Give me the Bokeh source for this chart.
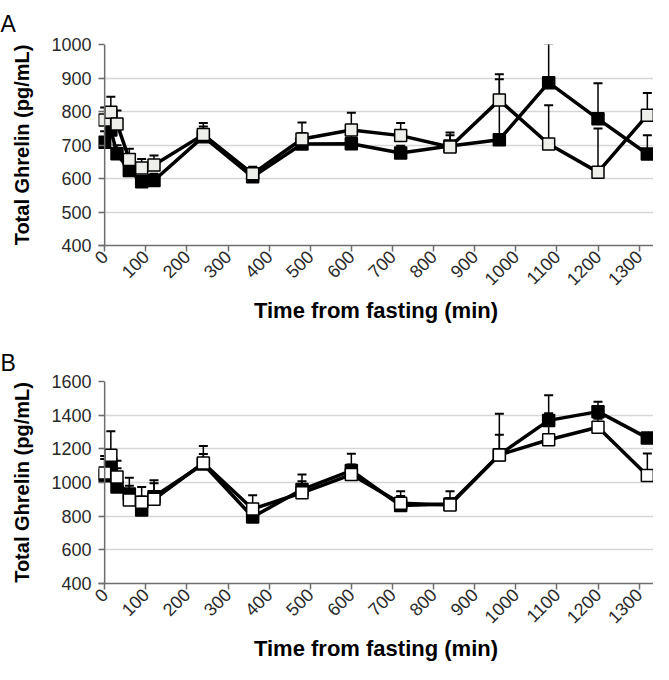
import math
from bokeh.plotting import figure
from bokeh.layouts import column
from bokeh.models import ColumnDataSource, Whisker, TeeHead, Span, FixedTicker
from bokeh.embed import file_html
from bokeh.resources import INLINE

# ---- data ----
time_min = [0, 15, 30, 60, 90, 120, 240, 360, 480, 600, 720, 840, 960, 1080, 1200, 1320]
x_ticks = list(range(0, 1301, 100))

a_filled = [708, 745, 674, 624, 590, 594, 725, 605, 703, 704, 676, 697, 716, 886, 778, 673]
a_filled_err = [33, 35, 25, 20, 18, 20, 30, 20, 33, 25, 22, 40, 180, 117, 106, 56]
a_open = [775, 798, 763, 657, 631, 640, 731, 614, 718, 745, 728, 694, 834, 703, 619, 789]
a_open_err = [37, 46, 40, 32, 27, 29, 35, 21, 49, 51, 38, 35, 77, 116, 130, 66]
a_y_ticks = [400, 500, 600, 700, 800, 900, 1000]

b_filled = [1040, 1110, 974, 931, 837, 915, 1110, 795, 958, 1071, 863, 872, 1165, 1369, 1421, 1265]
b_filled_err = [100, 60, 110, 50, 80, 80, 60, 70, 50, 100, 57, 76, 118, 149, 58, 20]
b_open = [1057, 1162, 1032, 896, 882, 900, 1116, 843, 939, 1047, 876, 867, 1164, 1254, 1328, 1042]
b_open_err = [100, 142, 97, 132, 91, 114, 101, 82, 108, 60, 72, 40, 245, 157, 50, 130]
b_y_ticks = [400, 600, 800, 1000, 1200, 1400, 1600]

FONT = "Liberation Sans"
GRAY = "#6e6e6e"


def panel(letter, filled, filled_err, opened, opened_err, yticks, open_fill,
          height, top, bottom, title_standoff):
    p = figure(width=653, height=height, output_backend="svg", toolbar_location=None,
               x_range=(-15, 1335), y_range=(yticks[0], yticks[-1]),
               min_border_left=98, min_border_right=0,
               min_border_top=top, min_border_bottom=bottom)
    p.outline_line_color = None
    p.xgrid.grid_line_color = None
    p.ygrid.grid_line_color = "#d6d6d6"
    p.ygrid.grid_line_width = 1.5

    p.title.text = letter
    p.title.align = "left"
    p.title.offset = -98
    p.title.standoff = title_standoff
    p.title.text_font = FONT
    p.title.text_font_size = "23px"
    p.title.text_font_style = "normal"
    p.title.text_color = "black"

    p.xaxis.ticker = FixedTicker(ticks=x_ticks)
    p.yaxis.ticker = FixedTicker(ticks=yticks)
    for ax in (p.xaxis, p.yaxis):
        ax.major_label_text_font = FONT
        ax.major_label_text_font_size = "18px"
        ax.major_label_text_color = "#2a2a2a"
        ax.axis_label_text_font = FONT
        ax.axis_label_text_font_style = "bold"
        ax.axis_label_text_color = "black"
        ax.minor_tick_line_color = None
        ax.major_tick_line_color = GRAY
        ax.major_tick_line_width = 1.5
        ax.axis_line_color = GRAY
        ax.axis_line_width = 1.5
    p.xaxis.axis_label = "Time from fasting (min)"
    p.xaxis.axis_label_text_font_size = "22px"
    p.xaxis.major_label_orientation = math.pi / 4
    p.xaxis.major_tick_out = 6
    p.xaxis.major_tick_in = 0
    p.xaxis.major_label_standoff = 2
    p.xaxis.axis_label_standoff = 4

    p.yaxis.axis_label = "Total Ghrelin (pg/mL)"
    p.yaxis.axis_label_text_font_size = "20px"
    p.yaxis.axis_line_color = None
    p.yaxis.major_tick_in = 6
    p.yaxis.major_tick_out = 0
    p.yaxis.major_label_standoff = 7
    p.yaxis.axis_label_standoff = 15

    p.add_layout(Span(location=0, dimension="height", line_color=GRAY, line_width=1.5))

    fs = ColumnDataSource(dict(x=time_min, y=filled,
                               up=[v + e for v, e in zip(filled, filled_err)]))
    os_ = ColumnDataSource(dict(x=time_min, y=opened,
                                up=[v + e for v, e in zip(opened, opened_err)]))
    for src in (fs, os_):
        p.add_layout(Whisker(source=src, base="x", lower="y", upper="up",
                             line_color="black", line_width=1.5,
                             upper_head=TeeHead(size=9, line_color="black", line_width=2),
                             lower_head=None))
    p.line("x", "y", source=fs, line_color="black", line_width=3.5)
    p.line("x", "y", source=os_, line_color="black", line_width=3.5)
    p.scatter("x", "y", source=fs, marker="square", size=12, fill_color="black",
              line_color="black", line_width=1.5)
    p.scatter("x", "y", source=os_, marker="square", size=12, fill_color=open_fill,
              line_color="black", line_width=1.5)
    return p


pa = panel("A", a_filled, a_filled_err, a_open, a_open_err, a_y_ticks, "#eeeeea",
           333, 43, 88, 16)
pb = panel("B", b_filled, b_filled_err, b_open, b_open_err, b_y_ticks, "white",
           331, 48, 81, 12)

layout = column(pa, pb, spacing=0)
open("out.html", "w").write(file_html(layout, INLINE))
